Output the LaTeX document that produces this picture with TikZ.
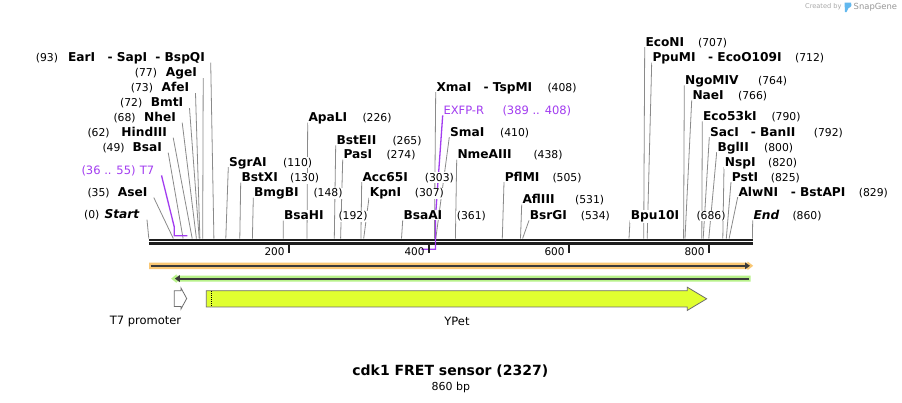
\documentclass[tikz,border=0pt]{standalone}
\usepackage{fontspec}
\setmainfont{DejaVu Sans}
\usetikzlibrary{arrows.meta}
\pgfdeclarelayer{background}
\pgfsetlayers{background,main}
\definecolor{linegray}{HTML}{8A8A8A}
\definecolor{primer}{HTML}{A23CF0}
\definecolor{orangeband}{HTML}{F9C774}
\definecolor{greenband}{HTML}{B8F28A}
\definecolor{darkline}{HTML}{3A3A3A}
\definecolor{ypet}{HTML}{E0FF30}
\definecolor{featline}{HTML}{6E6E6E}
\definecolor{rulerblack}{HTML}{1E1E1E}
\definecolor{logogray}{HTML}{A8A8A8}
\definecolor{logoblue}{HTML}{62B8EE}
\tikzset{
  nm/.style={font=\fontsize{12.2}{14}\selectfont\bfseries, inner sep=0.6pt, fill=white},
  nmi/.style={nm, font=\fontsize{12.2}{14}\selectfont\bfseries\itshape},
  num/.style={font=\fontsize{10.8}{13}\selectfont, inner sep=0.6pt, fill=white},
  ptext/.style={font=\fontsize{11.5}{13}\selectfont, text=primer, inner sep=0.6pt, fill=white},
  cutline/.style={draw=linegray, line width=0.8pt},
  primerline/.style={draw=primer, line width=1.3pt},
  ticklab/.style={font=\fontsize{10.5}{12}\selectfont, inner sep=0pt},
  featlab/.style={font=\fontsize{11.5}{13}\selectfont, inner sep=0pt},
  feat/.style={draw=featline, line width=0.8pt},
  darkarrow/.style={draw=darkline, line width=2pt, -{Triangle[length=5pt,width=6.5pt]}}
}
% right-side label: id, name, x left, y centre, bp, number, number x
\newcommand\cutR[7]{%
  \coordinate (#1s) at ({148.8+0.7*#5},238.5);
  \node[nm, anchor=base west] (#1) at (#3,{#4+4.4}) {#2};
  \node[num, anchor=base west] (#1n) at (#7,{#4+4.4}) {#6};
  \begin{pgfonlayer}{background}
    \draw[cutline] ([yshift=-1pt]#1.base west) -- (#1s);
  \end{pgfonlayer}}
% left-side label: id, name, x right, y centre, bp, number, number x
\newcommand\cutL[7]{%
  \coordinate (#1s) at ({148.8+0.7*#5},238.5);
  \node[nm, anchor=base east] (#1) at (#3,{#4+4.4}) {#2};
  \node[num, anchor=base west] (#1n) at (#7,{#4+4.4}) {#6};
  \begin{pgfonlayer}{background}
    \draw[cutline] ([xshift=5.5pt,yshift=-1.5pt]#1.base east) -- (#1s);
  \end{pgfonlayer}}
\begin{document}
\begin{tikzpicture}[x=1pt,y=-1pt]
\begin{pgfonlayer}{background}
\fill[white] (0,0) rectangle (902,402);
\end{pgfonlayer}
\useasboundingbox (0,0) rectangle (902,402);

% ruler
\begin{pgfonlayer}{background}
\draw[rulerblack, line width=2.4pt] (148.8,239.8) -- (752.7,239.8);
\draw[rulerblack, line width=2.4pt] (148.8,243.6) -- (752.7,243.6);
\end{pgfonlayer}
\foreach \t/\l in {288.8/200,428.8/400,568.8/600,708.8/800}{
  \draw[rulerblack, line width=1.5pt] (\t,244.5) -- (\t,253.3);
  \node[ticklab, anchor=east] at (\t-4,251.6) {\l};
}

% left labels
\node[nm, anchor=base west] (EarI) at (67.3,61.1) {EarI};
\node[nm, anchor=base west] (SapI) at (106.7,61.1) {- SapI};
\node[nm, anchor=base east] (BspQI) at (205.7,61.1) {- BspQI};
\node[num, anchor=base west] (EarIn) at (35,61.1) {(93)};
\coordinate (BspQIs) at ({148.8+0.7*93},238.5);
\begin{pgfonlayer}{background}
\draw[cutline] ([xshift=5pt,yshift=-1.5pt]BspQI.base east) -- (BspQIs);
\end{pgfonlayer}
\cutL{AgeI}{AgeI}{197.7}{72.3}{77}{(77)}{134}
\cutL{AfeI}{AfeI}{190}{87.3}{73}{(73)}{130}
\cutL{BmtI}{BmtI}{184}{102.3}{72}{(72)}{119.3}
\cutL{NheI}{NheI}{176.7}{116.7}{68}{(68)}{112.7}
\cutL{HindIII}{HindIII}{167.7}{131.7}{62}{(62)}{86.7}
\cutL{BsaI}{BsaI}{162.7}{146.7}{49}{(49)}{101.7}
\cutL{AseI}{AseI}{148.3}{191.7}{35}{(35)}{86.7}
% Start
\node[nmi, anchor=base east] (Start) at (140,218.7) {Start};
\node[num, anchor=base west] (Startn) at (83.3,218.7) {(0)};
\coordinate (Starts) at (148.8,238.5);
\begin{pgfonlayer}{background}
\draw[cutline] ([xshift=7pt,yshift=-1pt]Start.base east) -- (Starts);
\end{pgfonlayer}

% T7 primer
\node[ptext, anchor=base east] (T7) at (155,174.4) {T7};
\node[ptext, anchor=base west] (T7n) at (80.7,174.4) {(36 .. 55)};
\coordinate (T7k) at (174.2,226.7);
\coordinate (T7a) at (174.2,235.8);
\coordinate (T7b) at (187.3,235.8);
\begin{pgfonlayer}{background}
\draw[primerline] ([xshift=6.5pt,yshift=-1pt]T7.base east) -- (T7k) -- (T7a) -- (T7b);
\end{pgfonlayer}

% middle labels
\cutR{SgrAI}{SgrAI}{228.3}{161.7}{110}{(110)}{282.3}
\cutR{BstXI}{BstXI}{240.7}{177.3}{130}{(130)}{289.3}
\cutR{BmgBI}{BmgBI}{253.3}{192.3}{148}{(148)}{312.7}
\cutR{BsaHI}{BsaHI}{283.3}{215.3}{192}{(192)}{337.7}
\cutR{ApaLI}{ApaLI}{307.7}{117.3}{226}{(226)}{361.7}
\cutR{BstEII}{BstEII}{335.7}{140}{265}{(265)}{391.7}
\cutR{PasI}{PasI}{342.7}{154.3}{274}{(274)}{385.7}
\cutR{AccI}{Acc65I}{361.7}{176.7}{303}{(303)}{424}
\cutR{KpnI}{KpnI}{369}{192.3}{307}{(307)}{414}
\cutR{BsaAI}{BsaAI}{402.7}{215}{361}{(361)}{456}
\cutR{XmaI}{XmaI}{435.7}{86.7}{408}{(408)}{546.7}
\node[nm, anchor=base west] (TspMI) at (482.7,91.1) {- TspMI};
\cutR{SmaI}{SmaI}{449.3}{131.7}{410}{(410)}{499.3}
\cutR{NmeAIII}{NmeAIII}{456.7}{154.3}{438}{(438)}{532.7}
\cutR{PflMI}{PflMI}{504}{176.7}{505}{(505)}{551.7}
\cutR{AflIII}{AflIII}{521.7}{199.3}{531}{(531)}{574.3}
\cutR{BsrGI}{BsrGI}{529}{215}{534}{(534)}{580}

% EXFP-R primer
\node[ptext, anchor=base west] (EXFPR) at (442.7,114.4) {EXFP-R};
\node[ptext, anchor=base west] (EXFPRn) at (501.7,114.4) {(389 .. 408)};
\coordinate (EXk) at (435.4,218);
\coordinate (EXa) at (435.4,249.3);
\coordinate (EXb) at (421.3,249.3);
\begin{pgfonlayer}{background}
\draw[primerline] ([yshift=-1pt]EXFPR.base west) -- (EXk) -- (EXa) -- (EXb);
\end{pgfonlayer}

% right labels
\cutR{EcoNI}{EcoNI}{644.7}{41.7}{707}{(707)}{697.3}
\cutR{PpuMI}{PpuMI}{651.7}{57.3}{712}{(712)}{794.3}
\node[nm, anchor=base west] (EcoOI) at (707.3,61.7) {- EcoO109I};
\cutR{NgoMIV}{NgoMIV}{684.3}{80}{764}{(764)}{757.3}
\cutR{NaeI}{NaeI}{691.7}{95}{766}{(766)}{737.3}
\cutR{EcoFIII}{Eco53kI}{702.3}{116}{790}{(790)}{770.7}
\cutR{SacI}{SacI}{709.3}{131.7}{792}{(792)}{813}
\node[nm, anchor=base west] (BanII) at (750,136.1) {- BanII};
\cutR{BglII}{BglII}{716.7}{146.7}{800}{(800)}{763.3}
\cutR{NspI}{NspI}{724}{161.7}{820}{(820)}{767.3}
\cutR{PstI}{PstI}{731}{176.7}{825}{(825)}{770}
\cutR{AlwNI}{AlwNI}{737.7}{191.7}{829}{(829)}{858}
\node[nm, anchor=base west] (BstAPI) at (790,196.1) {- BstAPI};
\cutR{BpuI}{Bpu10I}{630}{215}{686}{(686)}{695.7}
% End
\node[nmi, anchor=base west] (End) at (752.7,219.4) {End};
\node[num, anchor=base west] (Endn) at (791.7,219.4) {(860)};
\coordinate (Ends) at (752.4,238.5);
\begin{pgfonlayer}{background}
\draw[cutline] ([yshift=-1pt]End.base west) -- (Ends);
\end{pgfonlayer}

% orange feature line
\fill[orangeband] (149,262.6) -- (747.5,262.6) -- (747.5,261.4) -- (753.2,265.8) -- (747.5,270.2) -- (747.5,269) -- (149,269) -- cycle;
\draw[darkarrow] (150.5,265.8) -- (750,265.8);
% green feature line
\fill[greenband] (750.5,275.6) -- (176.5,275.6) -- (176.5,274.3) -- (171.2,278.6) -- (176.5,282.9) -- (176.5,281.6) -- (750.5,281.6) -- cycle;
\draw[darkarrow] (748.5,278.6) -- (174.8,278.6);

% T7 promoter
\draw[feat, fill=white] (174.3,290.7) -- (181,290.7) -- (181,288) -- (186.7,298.5) -- (181,309) -- (181,306.5) -- (174.3,306.5) -- cycle;
\node[featlab] (T7p) at (145.5,321.5) {T7 promoter};
% YPet
\draw[feat, fill=ypet] (206.3,290.7) -- (687.3,290.7) -- (687.3,287.2) -- (706.7,298.8) -- (687.3,310.4) -- (687.3,306.9) -- (206.3,306.9) -- cycle;
\draw[black, line width=0.8pt, dash pattern=on 1pt off 1pt] (211,291.1) -- (211,306.5);
\node[featlab] (YPet) at (457,321.5) {YPet};

% title
\node[font=\fontsize{14}{16}\selectfont\bfseries, inner sep=0pt] (title) at (450.3,371) {cdk1 FRET sensor (2327)};
\node[font=\fontsize{11}{13}\selectfont, inner sep=0pt] (bp) at (450.8,387.3) {860 bp};

% logo
\node[font=\fontsize{6.6}{8}\selectfont, text=logogray, anchor=west, inner sep=0pt] (created) at (805,7) {Created by};
\fill[logoblue] (844.5,2.5) -- (851,2.5) .. controls (852.5,4) and (851.5,7.5) .. (848.5,8) -- (846.5,12) -- (845,12) -- cycle;
\node[font=\fontsize{8.4}{10}\selectfont, text=logogray!90!black, anchor=west, inner sep=0pt] (snap) at (853.5,7) {SnapGene};
\end{tikzpicture}
\end{document}
